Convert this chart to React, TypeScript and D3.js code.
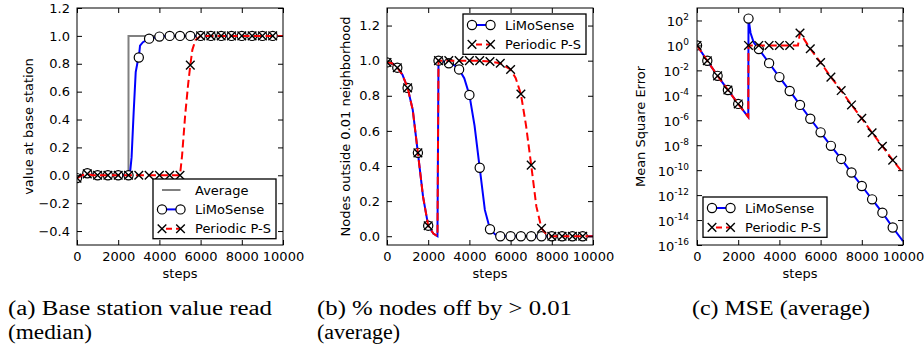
import * as d3 from "d3";
import { useEffect, useRef } from "react";

type Pt = [number, number];

// ---- data ----
const X_TICKS = [0, 2000, 4000, 6000, 8000, 10000];
const A_Y_TICKS = [-0.4, -0.2, 0, 0.2, 0.4, 0.6, 0.8, 1.0, 1.2];
const B_Y_TICKS = [0, 0.2, 0.4, 0.6, 0.8, 1.0, 1.2];
const C_Y_EXPONENTS = [2, 0, -2, -4, -6, -8, -10, -12, -14, -16];

// (a) value at base station
const A_AVERAGE: Pt[] = [[0, 0], [2500, 0], [2500, 1], [10000, 1]];
const A_LIMOSENSE: Pt[] = [
  [0, -0.02], [250, 0], [500, 0.015], [750, 0.005], [1000, 0], [1500, 0], [2000, 0],
  [2500, 0], [2570, 0.01], [2650, 0.13], [2750, 0.45], [2850, 0.74], [2950, 0.82],
  [3000, 0.845], [3060, 0.93], [3200, 0.955], [3500, 0.98], [4000, 0.995], [4500, 1],
  [5000, 1], [5500, 1], [6000, 1], [6500, 1], [7000, 1], [7500, 1], [8000, 1],
  [8500, 1], [9000, 1], [9500, 1], [10000, 1],
];
const A_PERIODIC: Pt[] = [
  [0, -0.02], [250, 0], [500, 0.01], [750, 0], [1000, 0], [1500, 0], [2000, 0],
  [2500, 0], [3000, 0], [3500, 0], [4000, 0], [4500, 0], [5000, 0], [5100, 0.14],
  [5250, 0.43], [5400, 0.66], [5500, 0.79], [5600, 0.9], [5750, 0.97], [6000, 1],
  [6500, 1], [7000, 1], [7500, 1], [8000, 1], [8500, 1], [9000, 1], [9500, 1], [10000, 1],
];

// (b) fraction of nodes outside 0.01 neighborhood
const B_LIMOSENSE: Pt[] = [
  [0, 0.99], [250, 0.985], [500, 0.96], [750, 0.92], [1000, 0.845], [1250, 0.72],
  [1500, 0.475], [1750, 0.225], [2000, 0.06], [2250, 0.015], [2450, 0], [2500, 1],
  [2750, 0.995], [3000, 0.985], [3250, 0.975], [3500, 0.95], [3750, 0.9], [4000, 0.805],
  [4250, 0.63], [4500, 0.39], [4750, 0.15], [5000, 0.04], [5250, 0.01], [5500, 0],
  [6000, 0], [6500, 0], [7000, 0], [7500, 0], [8000, 0], [8500, 0], [9000, 0],
  [9500, 0], [10000, 0],
];
const B_PERIODIC: Pt[] = [
  [0, 0.99], [250, 0.985], [500, 0.96], [750, 0.92], [1000, 0.845], [1250, 0.72],
  [1500, 0.475], [1750, 0.225], [2000, 0.06], [2250, 0.015], [2450, 0], [2500, 1],
  [3000, 1], [3500, 1], [4000, 1], [4500, 1], [5000, 0.995], [5500, 0.985],
  [6000, 0.95], [6250, 0.9], [6500, 0.81], [6750, 0.63], [7000, 0.405], [7250, 0.17],
  [7500, 0.045], [7750, 0.01], [8000, 0], [8500, 0], [9000, 0], [9500, 0], [10000, 0],
];

// (c) mean square error, stored as log10
const C_LIMOSENSE_LOG: Pt[] = [
  [0, 0], [500, -1.23], [1000, -2.44], [1500, -3.57], [2000, -4.69], [2490, -5.74],
  [2500, 2.15], [2600, 1.0], [2750, 0.25], [3000, -0.29], [3500, -1.42], [4000, -2.54],
  [4500, -3.65], [5000, -4.77], [5500, -5.88], [6000, -6.97], [6500, -8.05],
  [7000, -9.1], [7500, -10.19], [8000, -11.27], [8500, -12.34], [9000, -13.41],
  [9500, -14.6], [10000, -15.7],
];
const C_PERIODIC_LOG: Pt[] = [
  [0, 0], [500, -1.23], [1000, -2.44], [1500, -3.57], [2000, -4.69], [2490, -5.74],
  [2500, 0], [3000, 0], [3500, 0], [4000, 0], [4500, 0], [4900, 0], [5000, 1.0],
  [5500, -0.27], [6000, -1.37], [6500, -2.54], [7000, -3.62], [7500, -4.77],
  [8000, -5.85], [8500, -7.0], [9000, -8.08], [9500, -9.2], [10000, -10.22],
];

const CAPTIONS: Array<{ x: number; lines: string[]; widths: number[] }> = [
  { x: 8, lines: ["(a) Base station value read", "(median)"], widths: [264, 84] },
  { x: 317, lines: ["(b) % nodes off by > 0.01", "(average)"], widths: [255, 83] },
  { x: 692, lines: ["(c) MSE (average)"], widths: [178] },
];

const FONT = "DejaVu Sans, sans-serif";
const TOP = 8;
const BOTTOM = 245;
const PW = 206;
const BLUE = "#0000ff";
const RED = "#ff0000";
const GRAY = "#808080";

type Marker = "o" | "x" | null;
interface Series {
  pts: Pt[];
  color: string;
  dash?: string;
  marker: Marker;
  label: string;
}

function drawMarker(g: any, kind: Marker, cx: number, cy: number) {
  if (kind === "o") {
    g.append("circle").attr("cx", cx).attr("cy", cy).attr("r", 4.6)
      .attr("fill", "#fff").attr("stroke", "#000").attr("stroke-width", 1.2);
  } else if (kind === "x") {
    const s = 4.3;
    g.append("path")
      .attr("d", `M${cx - s},${cy - s}L${cx + s},${cy + s}M${cx - s},${cy + s}L${cx + s},${cy - s}`)
      .attr("stroke", "#000").attr("stroke-width", 1.4).attr("fill", "none");
  }
}

function drawPanel(
  svg: any,
  id: string,
  left: number,
  y: any,
  yTicks: number[],
  yFmt: ((v: number) => string) | null,
  yLabel: string,
  yLabelX: number,
  series: Series[],
  legend: { x: number; y: number; w: number },
  mapY: (v: number) => number,
) {
  const x = d3.scaleLinear().domain([0, 10000]).range([left, left + PW]);
  const root = svg.append("g");

  root.append("clipPath").attr("id", id).append("rect")
    .attr("x", left).attr("y", TOP).attr("width", PW).attr("height", BOTTOM - TOP);

  const plot = root.append("g").attr("clip-path", `url(#${id})`);
  series.forEach((s) => {
    const line = d3.line<Pt>().x((d) => x(d[0])).y((d) => y(mapY(d[1])));
    plot.append("path").datum(s.pts).attr("fill", "none").attr("stroke", s.color)
      .attr("stroke-width", 2).attr("stroke-dasharray", s.dash ?? null)
      .attr("d", line);
    s.pts.filter((d) => d[0] % 500 === 0 && d[0] < 10000)
      .forEach((d) => drawMarker(plot, s.marker, x(d[0]), y(mapY(d[1]))));
  });

  // frame + inward ticks on all sides
  root.append("rect").attr("x", left).attr("y", TOP).attr("width", PW)
    .attr("height", BOTTOM - TOP).attr("fill", "none").attr("stroke", "#000").attr("stroke-width", 1);

  const style = (sel: any) => {
    sel.select(".domain").remove();
    sel.attr("font-family", FONT).attr("font-size", 13);
    sel.selectAll("text").attr("fill", "#000");
    sel.selectAll("line").attr("stroke", "#000");
  };
  root.append("g").attr("transform", `translate(0,${BOTTOM})`)
    .call(d3.axisBottom(x).tickValues(X_TICKS).tickSizeInner(-5).tickSizeOuter(0).tickPadding(7).tickFormat(d3.format("d")))
    .call(style);
  root.append("g").attr("transform", `translate(0,${TOP})`)
    .call(d3.axisTop(x).tickValues(X_TICKS).tickSizeInner(-5).tickSizeOuter(0).tickFormat(() => ""))
    .call(style);
  const yl = root.append("g").attr("transform", `translate(${left},0)`)
    .call(d3.axisLeft(y).tickValues(yTicks).tickSizeInner(-5).tickSizeOuter(0).tickPadding(7)
      .tickFormat(yFmt ? (yFmt as any) : () => ""))
    .call(style);
  root.append("g").attr("transform", `translate(${left + PW},0)`)
    .call(d3.axisRight(y).tickValues(yTicks).tickSizeInner(-5).tickSizeOuter(0).tickFormat(() => ""))
    .call(style);

  if (!yFmt) {
    // log labels 10^e
    yTicks.forEach((v) => {
      const e = Math.round(Math.log10(v));
      const t = yl.append("text").attr("x", -8).attr("y", y(v) + 6)
        .attr("text-anchor", "end").attr("fill", "#000").attr("font-family", FONT);
      t.append("tspan").attr("font-size", 13).text("10");
      t.append("tspan").attr("font-size", 9).attr("dy", -6).text(String(e).replace("-", "-"));
    });
  }

  root.append("text").attr("x", left + PW / 2).attr("y", 278).attr("text-anchor", "middle")
    .attr("font-family", FONT).attr("font-size", 13).text("steps");
  root.append("text")
    .attr("transform", `translate(${yLabelX},${(TOP + BOTTOM) / 2}) rotate(-90)`)
    .attr("text-anchor", "middle").attr("dy", "0.35em")
    .attr("font-family", FONT).attr("font-size", 13).text(yLabel);

  // legend
  const lg = root.append("g");
  const rowH = 19.4;
  const h = series.length * rowH + 1.5;
  lg.append("rect").attr("x", legend.x).attr("y", legend.y).attr("width", legend.w).attr("height", h)
    .attr("fill", "#fff").attr("stroke", "#000").attr("stroke-width", 1.3);
  series.forEach((s, i) => {
    const cy = legend.y + 11 + i * rowH;
    lg.append("line").attr("x1", legend.x + 9).attr("x2", legend.x + 27.5).attr("y1", cy).attr("y2", cy)
      .attr("stroke", s.color).attr("stroke-width", 2).attr("stroke-dasharray", s.dash ? "6,4" : null)
      .attr("stroke-dashoffset", s.dash ? -4 : null);
    if (s.marker) {
      drawMarker(lg, s.marker, legend.x + 9, cy);
      drawMarker(lg, s.marker, legend.x + 27.5, cy);
    }
    lg.append("text").attr("x", legend.x + 42).attr("y", cy).attr("dy", "0.35em")
      .attr("font-family", FONT).attr("font-size", 13).text(s.label);
  });
}

export default function App() {
  const ref = useRef<SVGSVGElement>(null);

  useEffect(() => {
    if (!ref.current) return;
    const svg = d3.select(ref.current);
    svg.selectAll("*").remove();
    const lin = (v: number) => v;
    const pow = (v: number) => Math.pow(10, v);

    const yA = d3.scaleLinear().domain([-0.5, 1.2]).range([BOTTOM, TOP]);
    drawPanel(svg, "clipA", 77, yA, A_Y_TICKS, d3.format(".1f"), "value at base station", 28, [
      { pts: A_AVERAGE, color: GRAY, marker: null, label: "Average" },
      { pts: A_LIMOSENSE, color: BLUE, marker: "o", label: "LiMoSense" },
      { pts: A_PERIODIC, color: RED, dash: "8,4", marker: "x", label: "Periodic P-S" },
    ], { x: 153, y: 179, w: 123 }, lin);

    const yB = d3.scaleLinear().domain([-0.05, 1.3]).range([BOTTOM, TOP]);
    drawPanel(svg, "clipB", 387, yB, B_Y_TICKS, d3.format(".1f"), "Nodes outside 0.01 neighborhood", 345, [
      { pts: B_LIMOSENSE, color: BLUE, marker: "o", label: "LiMoSense" },
      { pts: B_PERIODIC, color: RED, dash: "8,4", marker: "x", label: "Periodic P-S" },
    ], { x: 463, y: 14, w: 123 }, lin);

    const yC = d3.scaleLog().domain([1e-16, 1e3]).range([BOTTOM, TOP]);
    drawPanel(svg, "clipC", 697, yC, C_Y_EXPONENTS.map(pow), null, "Mean Square Error", 640, [
      { pts: C_LIMOSENSE_LOG, color: BLUE, marker: "o", label: "LiMoSense" },
      { pts: C_PERIODIC_LOG, color: RED, dash: "8,4", marker: "x", label: "Periodic P-S" },
    ], { x: 703, y: 197, w: 124 }, pow);

    // captions
    CAPTIONS.forEach((c) => {
      c.lines.forEach((ln, i) => {
        svg.append("text").attr("x", c.x).attr("y", 315 + i * 24)
          .attr("font-family", "Liberation Serif, serif").attr("font-size", 20)
          .attr("textLength", c.widths[i]).attr("lengthAdjust", "spacingAndGlyphs")
          .attr("fill", "#000").text(ln);
      });
    });
  }, []);

  return (
    <svg ref={ref} width={924} height={347}
      style={{ position: "absolute", left: 0, top: 0, background: "#fff" }} />
  );
}
